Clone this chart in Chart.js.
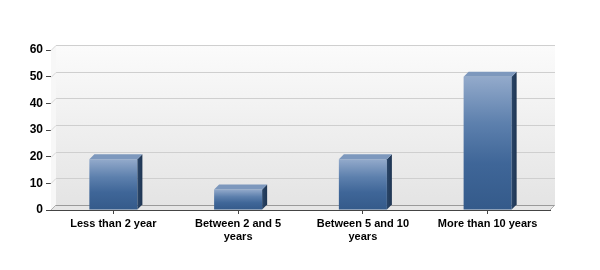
<!DOCTYPE html>
<html>
<head>
<meta charset="utf-8">
<script src="https://cdn.jsdelivr.net/npm/chart.js@4/dist/chart.umd.min.js"></script>
<style>
  html, body { margin: 0; padding: 0; background: #ffffff; }
  #wrap { width: 600px; height: 270px; }
</style>
</head>
<body>
<div id="wrap"><canvas id="c" width="600" height="270"></canvas></div>
<script>
// ---- data ----
const categories = [
  ["Less than 2 year"],
  ["Between 2 and 5", "years"],
  ["Between 5 and 10", "years"],
  ["More than 10 years"]
];
const values = [19, 7.7, 19, 50];
const yTicks = [0, 10, 20, 30, 40, 50, 60];

const DEPTH = 5;      // wall depth
const BAR_D = 5;      // bar depth

function frontGradient(ctx) {
  const chart = ctx.chart;
  const ca = chart.chartArea;
  if (!ca) return '#3d6699';
  const ys = chart.scales.y;
  const v = ctx.parsed ? ctx.parsed.y : values[ctx.dataIndex];
  const top = ys.getPixelForValue(v);
  const bot = ys.getPixelForValue(0);
  const g = chart.ctx.createLinearGradient(0, top, 0, bot);
  g.addColorStop(0, '#93aacb');
  g.addColorStop(0.35, '#5d80ad');
  g.addColorStop(0.65, '#3f6698');
  g.addColorStop(1, '#345a8a');
  return g;
}

const walls = {
  id: 'walls',
  beforeDatasetsDraw(chart) {
    const { ctx, chartArea: a, scales: { y } } = chart;
    const L = a.left, R = a.right, T = a.top, B = a.bottom;
    ctx.save();
    // back wall
    const g = ctx.createLinearGradient(0, T - DEPTH, 0, B - DEPTH);
    g.addColorStop(0, '#fbfbfb');
    g.addColorStop(1, '#e4e4e4');
    ctx.fillStyle = g;
    ctx.fillRect(L + DEPTH, T - DEPTH, R - L, B - T);
    // left wall
    ctx.fillStyle = '#f7f7f7';
    ctx.beginPath();
    ctx.moveTo(L, T); ctx.lineTo(L + DEPTH, T - DEPTH);
    ctx.lineTo(L + DEPTH, B - DEPTH); ctx.lineTo(L, B);
    ctx.closePath(); ctx.fill();
    // floor
    ctx.fillStyle = '#e6e6e6';
    ctx.beginPath();
    ctx.moveTo(L, B); ctx.lineTo(L + DEPTH, B - DEPTH);
    ctx.lineTo(R + DEPTH, B - DEPTH); ctx.lineTo(R, B);
    ctx.closePath(); ctx.fill();
    // gridlines on back wall
    ctx.lineWidth = 1;
    yTicks.forEach(v => {
      if (v === 0) return;
      const py = Math.round(y.getPixelForValue(v) - DEPTH) + 0.5;
      ctx.strokeStyle = '#cfcfcf';
      ctx.beginPath();
      ctx.moveTo(L + DEPTH, py); ctx.lineTo(R + DEPTH, py);
      ctx.stroke();
      ctx.strokeStyle = '#d8d8d8';
      ctx.beginPath();
      ctx.moveTo(L, py + DEPTH); ctx.lineTo(L + DEPTH, py);
      ctx.stroke();
    });
    // floor back line
    ctx.strokeStyle = '#9a9a9a';
    ctx.beginPath();
    const fb = Math.round(B - DEPTH) + 0.5;
    ctx.moveTo(L + DEPTH, fb); ctx.lineTo(R + DEPTH, fb);
    ctx.stroke();
    // diagonals
    ctx.strokeStyle = '#b0b0b0';
    ctx.beginPath();
    ctx.moveTo(L, B); ctx.lineTo(L + DEPTH, B - DEPTH);
    ctx.moveTo(R, B); ctx.lineTo(R + DEPTH, B - DEPTH);
    ctx.stroke();
    ctx.restore();
  },
  afterDatasetsDraw(chart) {
    const { ctx } = chart;
    const meta = chart.getDatasetMeta(0);
    ctx.save();
    meta.data.forEach(bar => {
      const { x, y, base, width } = bar.getProps(['x', 'y', 'base', 'width'], true);
      const l = x - width / 2, r = x + width / 2;
      // side face
      const sg = ctx.createLinearGradient(r, 0, r + BAR_D, 0);
      sg.addColorStop(0, '#2a4669');
      sg.addColorStop(1, '#1f3552');
      ctx.fillStyle = sg;
      ctx.beginPath();
      ctx.moveTo(r, y); ctx.lineTo(r + BAR_D, y - BAR_D);
      ctx.lineTo(r + BAR_D, base - BAR_D); ctx.lineTo(r, base);
      ctx.closePath(); ctx.fill();
      // top face
      ctx.fillStyle = '#7d98bd';
      ctx.beginPath();
      ctx.moveTo(l, y); ctx.lineTo(l + BAR_D, y - BAR_D);
      ctx.lineTo(r + BAR_D, y - BAR_D); ctx.lineTo(r, y);
      ctx.closePath(); ctx.fill();
    });
    ctx.restore();
  }
};

new Chart(document.getElementById('c'), {
  type: 'bar',
  data: {
    labels: categories,
    datasets: [{
      data: values,
      backgroundColor: frontGradient,
      borderWidth: 0,
      barPercentage: 0.385,
      categoryPercentage: 1.0
    }]
  },
  options: {
    responsive: false,
    animation: false,
    layout: { padding: { left: 0, right: 50, top: 50, bottom: 0 } },
    plugins: { legend: { display: false }, tooltip: { enabled: false } },
    scales: {
      x: {
        offset: true,
        grid: { offset: false, drawOnChartArea: false, drawTicks: true, tickLength: 4, color: '#444' },
        border: { display: true, color: '#444', width: 1 },
        ticks: {
          color: '#000',
          padding: 3,
          maxRotation: 0,
          autoSkip: false,
          font: { family: 'Liberation Sans, Arial, sans-serif', size: 11, weight: 'bold', lineHeight: 1.2 }
        },
        afterFit(scale) { scale.height = 60; }
      },
      y: {
        min: 0, max: 60,
        afterBuildTicks(scale) { scale.ticks = yTicks.map(v => ({ value: v })); },
        grid: { drawOnChartArea: false, drawTicks: true, tickLength: 5, color: '#444' },
        border: { display: true, color: '#444', width: 1 },
        ticks: {
          color: '#000',
          padding: 3,
          font: { family: 'Liberation Sans, Arial, sans-serif', size: 12, weight: 'bold' }
        },
        afterFit(scale) { scale.width = 51; }
      }
    }
  },
  plugins: [walls]
});
</script>
</body>
</html>
